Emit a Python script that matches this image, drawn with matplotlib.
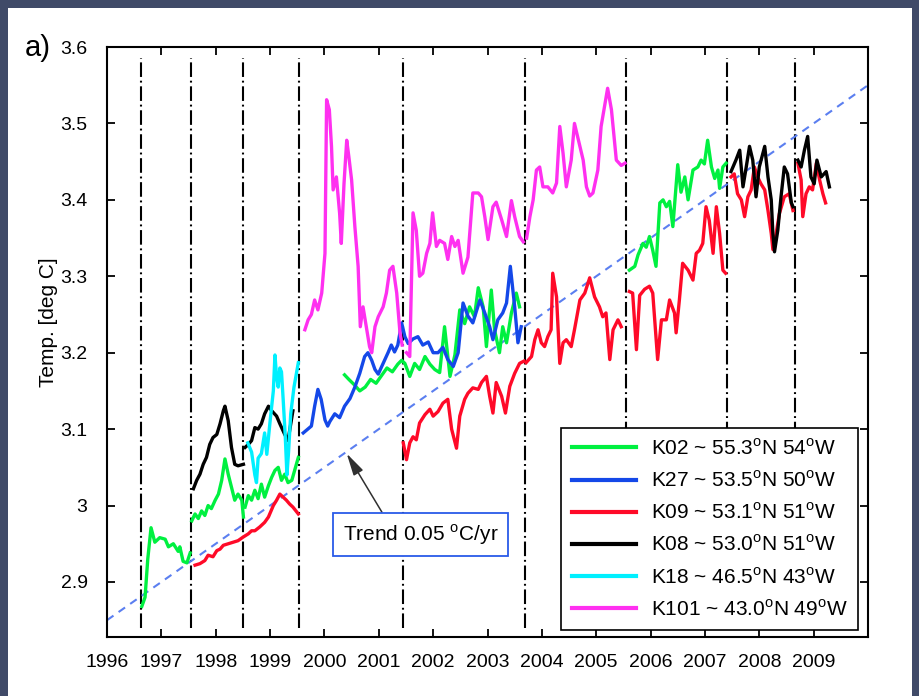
import numpy as np
import matplotlib
matplotlib.use("Agg")
import matplotlib.pyplot as plt
from matplotlib.patches import Rectangle

plt.rcParams['font.family'] = ['Liberation Sans', 'DejaVu Sans']

nan = np.nan

# mooring turn-around dates (dash-dot lines)
deploy_t = [1996.62, 1997.54, 1998.51, 1999.54, 2001.44, 2003.69, 2005.55, 2007.41, 2008.66]

# trend line end points, 0.05 deg C / yr
trend_t = [1996.0, 2010.0]
trend_v = [2.85, 3.55]

# K02 ~ 55.3N 54W (green)
k02_t = [1996.64, 1996.70, 1996.75, 1996.81, 1996.88, 1996.97, 1997.07, 1997.13, 1997.22, 1997.31, 1997.34, 1997.40, 1997.47, 1997.53, nan,
         1997.56, 1997.62, 1997.68, 1997.74, 1997.80, 1997.86, 1997.92, 1997.99, 1998.05, 1998.11, 1998.17, 1998.23, 1998.29, 1998.35, 1998.41, 1998.48, 1998.51, nan,
         1998.54, 1998.60, 1998.66, 1998.72, 1998.78, 1998.84, 1998.90, 1998.97, 1999.03, 1999.09, 1999.15, 1999.21, 1999.27, 1999.33, 1999.40, 1999.46, 1999.52, nan,
         2000.37, 2000.45, 2000.55, 2000.65, 2000.75, 2000.85, 2000.95, 2001.05, 2001.15, 2001.25, 2001.35, 2001.42,
         2001.48, 2001.57, 2001.66, 2001.75, 2001.85, 2001.94, 2002.03, 2002.12, 2002.21, 2002.31, 2002.40, 2002.49, 2002.58, 2002.67, 2002.76, 2002.83, 2002.92, 2002.98, 2003.07, 2003.13, 2003.22, 2003.28, 2003.35, 2003.44, 2003.53, 2003.59, nan,
         2005.61, 2005.71, 2005.77, 2005.86, 2005.92, 2005.98, 2006.04, 2006.10, 2006.17, 2006.23, 2006.29, 2006.35, 2006.41, 2006.50, 2006.56, 2006.63, 2006.69, 2006.78, 2006.87, 2006.93, 2006.99, 2007.05, 2007.12, 2007.18, 2007.24, 2007.27, 2007.33, 2007.39]
k02_v = [2.868, 2.88, 2.93, 2.971, 2.952, 2.958, 2.956, 2.946, 2.95, 2.94, 2.946, 2.927, 2.925, 2.938, nan,
         2.98, 2.989, 2.983, 2.993, 2.987, 3.0, 2.996, 3.007, 3.015, 3.033, 3.061, 3.041, 3.024, 3.007, 3.015, 3.007, 2.985, nan,
         2.998, 3.013, 3.007, 3.02, 3.009, 3.028, 3.011, 3.026, 3.037, 3.046, 3.05, 3.033, 3.041, 3.03, 3.033, 3.048, 3.063, nan,
         3.171, 3.165, 3.158, 3.15, 3.155, 3.165, 3.16, 3.17, 3.18, 3.175, 3.185, 3.19,
         3.186, 3.169, 3.186, 3.178, 3.195, 3.185, 3.178, 3.174, 3.234, 3.169, 3.197, 3.256, 3.238, 3.26, 3.247, 3.285, 3.26, 3.208, 3.282, 3.23, 3.2, 3.234, 3.213, 3.252, 3.278, 3.26, nan,
         3.308, 3.313, 3.328, 3.343, 3.338, 3.352, 3.334, 3.313, 3.396, 3.4, 3.391, 3.398, 3.365, 3.446, 3.41, 3.43, 3.4, 3.439, 3.443, 3.452, 3.447, 3.478, 3.443, 3.428, 3.439, 3.415, 3.443, 3.448]

# K27 ~ 53.5N 50W (blue)
k27_t = [1999.61, 1999.66, 1999.76, 1999.82, 1999.88, 1999.94, 2000.01, 2000.06, 2000.10, 2000.19, 2000.28, 2000.37, 2000.47, 2000.56,
         2000.65, 2000.74, 2000.80, 2000.87, 2000.93, 2000.99, 2001.08, 2001.17, 2001.23, 2001.29, 2001.35, 2001.42, 2001.48, 2001.54, 2001.63,
         2001.72, 2001.81, 2001.91, 2002.00, 2002.09, 2002.18, 2002.27, 2002.37, 2002.46, 2002.55, 2002.64, 2002.73, 2002.86, 2002.95, 2003.04,
         2003.10, 2003.19, 2003.28, 2003.35, 2003.42, 2003.50, 2003.56, 2003.62]
k27_v = [3.095, 3.098, 3.104, 3.13, 3.152, 3.139, 3.112, 3.104, 3.11, 3.12, 3.115, 3.13, 3.14, 3.155,
         3.173, 3.195, 3.2, 3.19, 3.178, 3.172, 3.186, 3.2, 3.21, 3.201, 3.21, 3.239, 3.221, 3.212, 3.218,
         3.221, 3.21, 3.214, 3.2, 3.2, 3.207, 3.191, 3.182, 3.2, 3.265, 3.248, 3.239, 3.269, 3.252, 3.234,
         3.217, 3.243, 3.252, 3.265, 3.313, 3.26, 3.213, 3.234]

# K09 ~ 53.1N 51W (red)
k09_t = [1997.62, 1997.71, 1997.80, 1997.86, 1997.95, 1998.02, 1998.08, 1998.14, 1998.23, 1998.32, 1998.41, 1998.51, 1998.60, 1998.66, 1998.72, 1998.81, 1998.90, 1998.97, 1999.06, 1999.12, 1999.18, 1999.24, 1999.30, 1999.36, 1999.42, 1999.52, nan,
         2001.45, 2001.51, 2001.57, 2001.63, 2001.69, 2001.75, 2001.85, 2001.94, 2002.00, 2002.09, 2002.18, 2002.27, 2002.34, 2002.43, 2002.49, 2002.58, 2002.64, 2002.73, 2002.83, 2002.89, 2002.98, 2003.04, 2003.10, 2003.16, 2003.26, 2003.33, 2003.41, 2003.50, 2003.59, 2003.67, nan,
         2003.71, 2003.81, 2003.87, 2003.93, 2003.99, 2004.05, 2004.11, 2004.17, 2004.20, 2004.27, 2004.33, 2004.39, 2004.45, 2004.54, 2004.60, 2004.70, 2004.79, 2004.88, 2004.97, 2005.06, 2005.12, 2005.18, 2005.25, 2005.31, 2005.40, 2005.46, nan,
         2005.61, 2005.67, 2005.74, 2005.80, 2005.89, 2005.98, 2006.04, 2006.13, 2006.20, 2006.29, 2006.35, 2006.44, 2006.47, 2006.53, 2006.59, 2006.69, 2006.78, 2006.84, 2006.90, 2006.96, 2007.02, 2007.08, 2007.15, 2007.21, 2007.27, 2007.33, 2007.38, nan,
         2007.48, 2007.54, 2007.60, 2007.67, 2007.73, 2007.79, 2007.85, 2007.91, 2007.97, 2008.03, 2008.10, 2008.16, 2008.22, 2008.25, 2008.31, 2008.37, 2008.46, 2008.55, 2008.62, nan,
         2008.71, 2008.77, 2008.80, 2008.86, 2008.92, 2008.98, 2009.05, 2009.11, 2009.17, 2009.22]
k09_v = [2.922, 2.924, 2.928, 2.935, 2.933, 2.941, 2.943, 2.948, 2.95, 2.952, 2.954, 2.959, 2.963, 2.967, 2.967, 2.972, 2.978, 2.985, 3.0, 3.007, 3.015, 3.011, 3.007, 3.002, 2.998, 2.989, nan,
         3.082, 3.06, 3.082, 3.09, 3.086, 3.108, 3.119, 3.126, 3.117, 3.123, 3.134, 3.139, 3.1, 3.075, 3.117, 3.139, 3.147, 3.154, 3.152, 3.161, 3.169, 3.143, 3.121, 3.161, 3.143, 3.121, 3.156, 3.173, 3.186, 3.189, nan,
         3.187, 3.195, 3.217, 3.23, 3.213, 3.208, 3.221, 3.23, 3.304, 3.273, 3.186, 3.213, 3.217, 3.208, 3.23, 3.269, 3.278, 3.298, 3.273, 3.26, 3.247, 3.252, 3.191, 3.23, 3.243, 3.234, nan,
         3.28, 3.278, 3.204, 3.275, 3.283, 3.287, 3.278, 3.191, 3.243, 3.243, 3.269, 3.252, 3.226, 3.269, 3.317, 3.308, 3.295, 3.33, 3.334, 3.343, 3.391, 3.373, 3.33, 3.391, 3.356, 3.308, 3.304, nan,
         3.43, 3.434, 3.408, 3.4, 3.378, 3.404, 3.413, 3.443, 3.43, 3.421, 3.413, 3.386, 3.356, 3.335, 3.356, 3.382, 3.404, 3.408, 3.386, nan,
         3.448, 3.426, 3.378, 3.408, 3.417, 3.413, 3.448, 3.426, 3.408, 3.396]

# K08 ~ 53.0N 51W (black)
k08_t = [1997.59, 1997.65, 1997.71, 1997.77, 1997.83, 1997.89, 1997.95, 1998.02, 1998.08, 1998.14, 1998.17, 1998.23, 1998.29, 1998.35, 1998.41, 1998.51, nan,
         1998.54, 1998.60, 1998.66, 1998.72, 1998.78, 1998.84, 1998.90, 1998.97, 1999.03, 1999.12, 1999.18, 1999.27, 1999.33, 1999.42, nan,
         2007.48, 2007.57, 2007.64, 2007.70, 2007.76, 2007.82, 2007.88, 2007.94, 2008.00, 2008.10, 2008.16, 2008.22, 2008.25, 2008.28, 2008.34, 2008.40, 2008.46, 2008.52, 2008.59, 2008.62, nan,
         2008.71, 2008.77, 2008.83, 2008.89, 2008.95, 2009.01, 2009.06, 2009.14, 2009.23, 2009.29]
k08_v = [3.022, 3.033, 3.041, 3.054, 3.063, 3.08, 3.089, 3.093, 3.107, 3.124, 3.13, 3.111, 3.076, 3.054, 3.052, 3.054, nan,
         3.076, 3.08, 3.085, 3.102, 3.1, 3.107, 3.12, 3.13, 3.124, 3.117, 3.107, 3.093, 3.085, 3.124, nan,
         3.437, 3.452, 3.465, 3.417, 3.443, 3.47, 3.452, 3.404, 3.443, 3.47, 3.43, 3.4, 3.356, 3.332, 3.36, 3.404, 3.443, 3.434, 3.396, 3.391, nan,
         3.452, 3.443, 3.465, 3.483, 3.43, 3.421, 3.452, 3.43, 3.437, 3.417]

# K18 ~ 46.5N 43W (cyan)
k18_t = [1998.59, 1998.66, 1998.72, 1998.75, 1998.78, 1998.84, 1998.90, 1998.94, 1999.00, 1999.06, 1999.09, 1999.12, 1999.15, 1999.18, 1999.21, 1999.24, 1999.28, 1999.31, 1999.34, 1999.38, 1999.44, 1999.52]
k18_v = [3.082, 3.07, 3.04, 3.03, 3.062, 3.068, 3.095, 3.067, 3.11, 3.15, 3.197, 3.168, 3.155, 3.18, 3.175, 3.14, 3.09, 3.04, 3.07, 3.12, 3.155, 3.187]

# K101 ~ 43.0N 49W (magenta)
k101_t = [1999.64, 1999.70, 1999.76, 1999.82, 1999.88, 1999.95, 2000.01, 2000.04, 2000.09, 2000.13, 2000.16, 2000.22, 2000.28, 2000.31, 2000.36, 2000.41, 2000.45, 2000.50, 2000.56, 2000.62, 2000.66, 2000.71, 2000.77, 2000.83, 2000.87, 2000.93, 2000.99, 2001.08, 2001.14, 2001.20, 2001.26, 2001.33, 2001.39, 2001.43, nan,
          2001.51, 2001.57, 2001.63, 2001.69, 2001.75, 2001.81, 2001.88, 2001.94, 2001.99, 2002.06, 2002.12, 2002.21, 2002.27, 2002.34, 2002.40, 2002.46, 2002.55, 2002.64, 2002.73, 2002.83, 2002.89, 2002.95, 2003.01, 2003.10, 2003.16, 2003.26, 2003.35, 2003.44, 2003.50, 2003.59, 2003.66, nan,
          2003.72, 2003.78, 2003.84, 2003.90, 2003.96, 2004.02, 2004.11, 2004.20, 2004.27, 2004.33, 2004.39, 2004.45, 2004.54, 2004.60, 2004.66, 2004.76, 2004.82, 2004.88, 2004.94, 2005.03, 2005.09, 2005.21, 2005.28, 2005.37, 2005.46, 2005.53]
k101_v = [3.23, 3.243, 3.25, 3.269, 3.256, 3.278, 3.33, 3.531, 3.518, 3.47, 3.413, 3.43, 3.382, 3.343, 3.421, 3.478, 3.456, 3.426, 3.365, 3.313, 3.234, 3.26, 3.234, 3.208, 3.2, 3.234, 3.247, 3.26, 3.278, 3.308, 3.313, 3.278, 3.226, 3.21, nan,
          3.2, 3.195, 3.383, 3.36, 3.3, 3.304, 3.33, 3.343, 3.383, 3.339, 3.347, 3.343, 3.322, 3.352, 3.339, 3.347, 3.304, 3.325, 3.409, 3.409, 3.404, 3.378, 3.348, 3.391, 3.397, 3.374, 3.352, 3.399, 3.378, 3.352, 3.345, nan,
          3.35, 3.378, 3.4, 3.439, 3.443, 3.417, 3.417, 3.409, 3.422, 3.496, 3.461, 3.417, 3.452, 3.5, 3.482, 3.452, 3.417, 3.405, 3.409, 3.439, 3.496, 3.546, 3.518, 3.452, 3.445, 3.448]

series_labels = [r'K02 ~ 55.3$^\mathregular{o}$N 54$^\mathregular{o}$W',
                 r'K27 ~ 53.5$^\mathregular{o}$N 50$^\mathregular{o}$W',
                 r'K09 ~ 53.1$^\mathregular{o}$N 51$^\mathregular{o}$W',
                 r'K08 ~ 53.0$^\mathregular{o}$N 51$^\mathregular{o}$W',
                 r'K18 ~ 46.5$^\mathregular{o}$N 43$^\mathregular{o}$W',
                 r'K101 ~ 43.0$^\mathregular{o}$N 49$^\mathregular{o}$W']
series_colors = ['#00f040', '#1448e8', '#ff0a28', '#000000', '#00f0ff', '#ff30f0']

xtick_years = list(range(1996, 2010))
ytick_vals = [2.9, 3.0, 3.1, 3.2, 3.3, 3.4, 3.5, 3.6]
ytick_labels = ['2.9', '3', '3.1', '3.2', '3.3', '3.4', '3.5', '3.6']

fig = plt.figure(figsize=(9.2, 6.96), dpi=100, facecolor='#404a68')
# white page inside the dark frame
fig.patches.append(Rectangle((8 / 920, 0), 904 / 920, 688 / 696, transform=fig.transFigure,
                             facecolor='white', edgecolor='none', zorder=-10))

ax = fig.add_axes([107 / 920, 1 - 637 / 696, 761 / 920, 590 / 696])
ax.set_facecolor('white')

ax.vlines(deploy_t, 2.84, 3.586, colors='k', linewidth=1.5,
          linestyles=[(0, (7.0, 1.8, 0.9, 1.8))], zorder=1)
ax.plot(trend_t, trend_v, color='#5b7ff0', linewidth=1.5, dashes=(3.8, 3.0), zorder=2)

all_t = [k02_t, k27_t, k09_t, k08_t, k18_t, k101_t]
all_v = [k02_v, k27_v, k09_v, k08_v, k18_v, k101_v]
for t, v, c, lab in zip(all_t, all_v, series_colors, series_labels):
    ax.plot(t, v, color=c, linewidth=2.4, label=lab, zorder=3)

ax.annotate(r'Trend 0.05 $^\mathregular{o}$C/yr', xy=(2000.41, 3.068), xytext=(2001.77, 2.962),
            ha='center', va='center', fontsize=15, zorder=5,
            bbox=dict(boxstyle='square,pad=0.45', fc='white', ec='#2a5ae8', lw=1.3),
            arrowprops=dict(arrowstyle='-|>,head_length=0.9,head_width=0.22', color='#303030',
                            lw=1.1, relpos=(0.29, 1.0), shrinkA=0, shrinkB=0))

ax.set_xlim(1996, 2010)
ax.set_ylim(2.828, 3.6)
ax.set_xticks(xtick_years)
ax.set_xticklabels([str(y) for y in xtick_years])
ax.set_yticks(ytick_vals)
ax.set_yticklabels(ytick_labels)
ax.tick_params(direction='in', length=6, width=1.3, top=True, right=True, labelsize=14)
ax.tick_params(axis='x', pad=12)
ax.tick_params(axis='y', pad=14)
for s in ax.spines.values():
    s.set_linewidth(1.5)
ax.set_ylabel('Temp. [deg C]', fontsize=15)
ax.yaxis.set_label_coords(-0.064, 0.534)

leg = ax.legend(loc='lower right', bbox_to_anchor=(0.987, 0.012), fontsize=15, frameon=True,
                fancybox=False, framealpha=1, edgecolor='black', handlelength=3.1,
                handletextpad=0.7, labelspacing=0.55, borderpad=0.5, borderaxespad=0)
leg.get_frame().set_linewidth(1.2)
for h in leg.get_lines():
    h.set_linewidth(3.0)
leg.set_zorder(6)

fig.text(38 / 920, 1 - 48 / 696, 'a)', fontsize=21, ha='center', va='center')

fig.savefig('out.png', dpi=100, facecolor=fig.get_facecolor())
